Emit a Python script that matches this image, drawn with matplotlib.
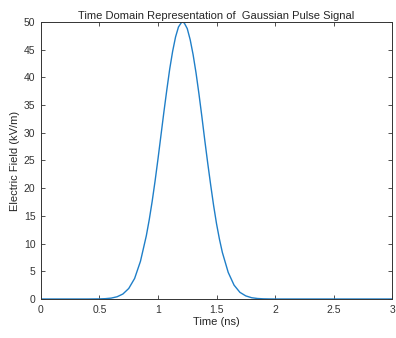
import matplotlib.pyplot as plt

# time axis (ns) and field (kV/m)
time_ns = [0.0, 0.1, 0.2, 0.3, 0.4, 0.5, 0.55, 0.6, 0.65, 0.7, 0.75, 0.8,
           0.85, 0.9, 0.925, 0.95, 0.975, 1.0, 1.025, 1.05, 1.075, 1.1,
           1.125, 1.15, 1.175, 1.2, 1.21, 1.225, 1.25, 1.275, 1.3, 1.325,
           1.35, 1.375, 1.4, 1.425, 1.45, 1.475, 1.5, 1.525, 1.55, 1.6,
           1.65, 1.7, 1.75, 1.8, 1.85, 1.9, 1.95, 2.0, 2.5, 3.0]
field = [0.0, 0.0, 0.0, 0.0, 0.0, 0.02, 0.06, 0.16, 0.4, 0.9, 1.9, 3.7,
         6.8, 11.4, 14.3, 17.6, 21.3, 25.3, 29.5, 33.7, 37.7, 41.5,
         44.7, 47.3, 49.1, 49.9, 50.0, 49.8, 48.8, 46.8, 44.1, 40.8,
         37.0, 32.9, 28.6, 24.5, 20.6, 16.9, 13.6, 10.8, 8.4, 4.8,
         2.5, 1.2, 0.56, 0.23, 0.09, 0.03, 0.01, 0.0, 0.0, 0.0]

xticks = [0, 0.5, 1, 1.5, 2, 2.5, 3]
xtick_labels = ['0', '0.5', '1', '1.5', '2', '2.5', '3']
yticks = list(range(0, 55, 5))

plt.rcParams['font.family'] = ['Liberation Sans', 'DejaVu Sans']

fig = plt.figure(figsize=(3.96, 3.38), dpi=100)
ax = fig.add_axes([0.1035, 0.1154, 0.8865, 0.8196])

ax.plot(time_ns, field, color='#1f7fc8', linewidth=1.0)

ax.set_xlim(0, 3)
ax.set_ylim(0, 50)
ax.set_xticks(xticks)
ax.set_xticklabels(xtick_labels)
ax.set_yticks(yticks)
ax.tick_params(direction='in', length=3, width=0.6, labelsize=7.5,
               colors='#333333', top=True, right=True, pad=4)
for s in ax.spines.values():
    s.set_color('#333333')
    s.set_linewidth(0.7)

ax.set_title('Time Domain Representation of  Gaussian Pulse Signal',
             fontsize=8, color='#262626', pad=2)
ax.set_xlabel('Time (ns)', fontsize=8, color='#262626', labelpad=2)
ax.set_ylabel('Electric Field (kV/m)', fontsize=8, color='#262626',
              labelpad=3)

fig.savefig('out.png', dpi=100)
